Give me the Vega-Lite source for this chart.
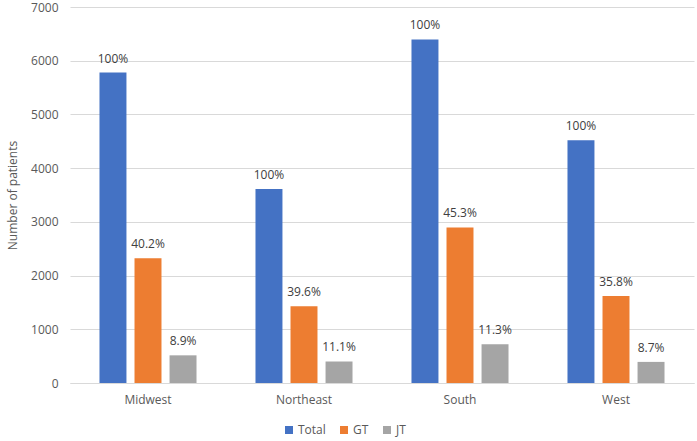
{
  "$schema": "https://vega.github.io/schema/vega-lite/v6.json",
  "width": 624,
  "height": 376,
  "autosize": {"type": "none"},
  "padding": {"left": 70, "top": 7, "right": 3, "bottom": 58},
  "config": {
    "font": "Open Sans",
    "view": {"stroke": null},
    "axis": {"labelFont": "Open Sans", "titleFont": "Open Sans"},
    "legend": {"labelFont": "Open Sans"}
  },
  "data": {
    "values": [
      {"region": "Midwest", "group": "Total", "patients": 5780, "pct": "100%"},
      {"region": "Midwest", "group": "GT", "patients": 2322, "pct": "40.2%"},
      {"region": "Midwest", "group": "JT", "patients": 515, "pct": "8.9%"},
      {"region": "Northeast", "group": "Total", "patients": 3610, "pct": "100%"},
      {"region": "Northeast", "group": "GT", "patients": 1430, "pct": "39.6%"},
      {"region": "Northeast", "group": "JT", "patients": 401, "pct": "11.1%"},
      {"region": "South", "group": "Total", "patients": 6395, "pct": "100%"},
      {"region": "South", "group": "GT", "patients": 2897, "pct": "45.3%"},
      {"region": "South", "group": "JT", "patients": 723, "pct": "11.3%"},
      {"region": "West", "group": "Total", "patients": 4520, "pct": "100%"},
      {"region": "West", "group": "GT", "patients": 1618, "pct": "35.8%"},
      {"region": "West", "group": "JT", "patients": 393, "pct": "8.7%"}
    ]
  },
  "encoding": {
    "x": {
      "field": "region",
      "type": "nominal",
      "sort": ["Midwest", "Northeast", "South", "West"],
      "scale": {"paddingInner": 0.378, "paddingOuter": 0.189},
      "axis": {
        "title": null,
        "labelAngle": 0,
        "labelFontSize": 12,
        "labelColor": "#595959",
        "labelPadding": 11,
        "ticks": false,
        "domainColor": "#d9d9d9",
        "grid": false
      }
    },
    "xOffset": {
      "field": "group",
      "sort": ["Total", "GT", "JT"],
      "scale": {"paddingInner": 0.23, "paddingOuter": 0}
    },
    "y": {
      "field": "patients",
      "type": "quantitative",
      "scale": {"domain": [0, 7000]},
      "axis": {
        "title": "Number of patients",
        "values": [0, 1000, 2000, 3000, 4000, 5000, 6000, 7000],
        "format": "d",
        "labelFontSize": 12,
        "labelColor": "#595959",
        "labelPadding": 12,
        "titleFontSize": 12,
        "titleFontWeight": "normal",
        "titleColor": "#595959",
        "titleX": -58,
        "titleBaseline": "middle",
        "ticks": false,
        "domain": false,
        "gridColor": "#d9d9d9"
      }
    }
  },
  "layer": [
    {
      "mark": {"type": "bar"},
      "encoding": {
        "color": {
          "field": "group",
          "type": "nominal",
          "sort": ["Total", "GT", "JT"],
          "scale": {"domain": ["Total", "GT", "JT"], "range": ["#4472C4", "#ED7D31", "#A5A5A5"]},
          "legend": {
            "title": null,
            "orient": "none",
            "direction": "horizontal",
            "legendX": 213,
            "legendY": 417,
            "symbolType": "square",
            "symbolSize": 64,
            "symbolStrokeWidth": 0,
            "labelFontSize": 12,
            "labelColor": "#595959",
            "labelOffset": 3,
            "columnPadding": 12
          }
        }
      }
    },
    {
      "mark": {"type": "text", "dy": -10, "baseline": "alphabetic", "fontSize": 12, "color": "#404040"},
      "encoding": {"text": {"field": "pct"}}
    }
  ]
}
